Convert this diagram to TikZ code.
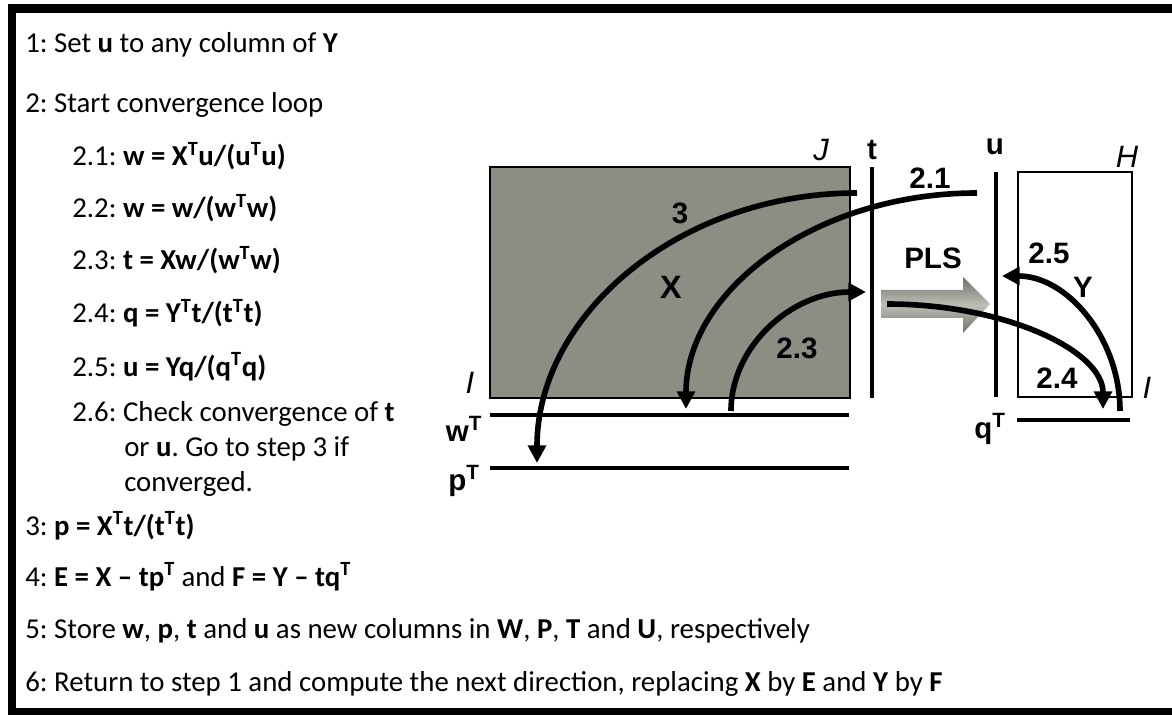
\documentclass[tikz,border=0pt]{standalone}
\usepackage{fontspec}
\setmainfont{Carlito}
\newfontfamily\diagfont{Liberation Sans}
\usetikzlibrary{arrows.meta}
\frenchspacing
\definecolor{matgray} {RGB}{141,141,131}
\definecolor{plsgray} {RGB}{112,112,104}
\definecolor{plslight}{RGB}{190,190,182}
\newcommand{\Tp}{\textsuperscript{T}}

\begin{document}
\begin{tikzpicture}[x=0.025cm, y=-0.025cm,
  txt/.style={anchor=base west, inner sep=0pt,
              font=\fontsize{20.5}{24}\selectfont},
  lab/.style={inner sep=0pt, font=\diagfont\bfseries\fontsize{21}{24}\selectfont},
  dimlab/.style={inner sep=0pt, font=\diagfont\itshape\fontsize{22}{25}\selectfont},
  vecline/.style={line width=2.8pt},
  flow/.style={line width=4pt, -{Triangle[length=0.44cm,width=0.44cm]}},
  boxline/.style={line width=6.4pt},
]
\useasboundingbox (0,0) rectangle (1172,715);

% Frame (right side open)
\coordinate (fa) at (1180,9);
\coordinate (fb) at (12,9);
\coordinate (fc) at (12,712);
\coordinate (fd) at (1180,712);
\draw[boxline] (fa) -- (fb) -- (fc) -- (fd);

% Algorithm steps
\node[txt] (s1)   at (25,53)   {1: Set \textbf{u} to any column of \textbf{Y}};
\node[txt] (s2)   at (25,113)  {2: Start convergence loop};
\node[txt] (s21)  at (72,166)  {2.1: \textbf{w = X\Tp u/(u\Tp u)}};
\node[txt] (s22)  at (72,218)  {2.2: \textbf{w = w/(w\Tp w)}};
\node[txt] (s23)  at (72,270)  {2.3: \textbf{t = Xw/(w\Tp w)}};
\node[txt] (s24)  at (72,323)  {2.4: \textbf{q = Y\Tp t/(t\Tp t)}};
\node[txt] (s25)  at (72,376)  {2.5: \textbf{u = Yq/(q\Tp q)}};
\node[txt] (s26)  at (72,421)  {2.6: Check convergence of \textbf{t}};
\node[txt] (s26b) at (124,456) {or \textbf{u}. Go to step 3 if};
\node[txt] (s26c) at (124,491) {converged.};
\node[txt] (s3)   at (25,535)  {3: \textbf{p = X\Tp t/(t\Tp t)}};
\node[txt] (s4)   at (25,586)  {4: \textbf{E = X -- tp\Tp} and \textbf{F = Y -- tq\Tp}};
\node[txt] (s5)   at (25,638)  {5: Store \textbf{w}, \textbf{p}, \textbf{t} and \textbf{u} as new columns in \textbf{W}, \textbf{P}, \textbf{T} and \textbf{U}, respectively};
\node[txt] (s6)   at (25,691)  {6: Return to step 1 and compute the next direction, replacing \textbf{X} by \textbf{E} and \textbf{Y} by \textbf{F}};

% X block and its vectors
\draw[fill=matgray, line width=1.2pt] (490,167) rectangle (850,398);
\coordinate (t1) at (872,167);  \coordinate (t2) at (872,398);
\coordinate (w1) at (490,415);  \coordinate (w2) at (849,415);
\coordinate (p1) at (490,468);  \coordinate (p2) at (849,468);
\draw[vecline] (t1) -- (t2);
\draw[vecline] (w1) -- (w2);
\draw[vecline] (p1) -- (p2);

% Y block and its vectors
\draw[fill=white, line width=1.2pt] (1018,172) rectangle (1132,397);
\coordinate (u1) at (996,172);  \coordinate (u2) at (996,397);
\coordinate (q1) at (1017,420); \coordinate (q2) at (1130,420);
\draw[vecline] (u1) -- (u2);
\draw[vecline] (q1) -- (q2);

% PLS arrow
\shade[top color=plsgray, bottom color=plsgray, middle color=plslight]
  (881,290) -- (963,290) -- (963,277) -- (990,304) -- (963,333)
  -- (963,318) -- (881,318) -- cycle;

% Labels
\node[dimlab] (lJ)  at (821,150)  {J};
\node[lab]    (lt)  at (872,150)  {t};
\node[dimlab] (lI1) at (470,383)  {I};
\node[lab, font=\diagfont\bfseries\fontsize{23}{26}\selectfont] (lX) at (671,287) {X};
\node[lab]    (lw)  at (464,429)  {w\Tp};
\node[lab]    (lp)  at (464,481)  {p\Tp};
\node[lab]    (lu)  at (995,147)  {u};
\node[dimlab] (lH)  at (1127,157) {H};
\node[dimlab] (lI2) at (1147,388) {I};
\node[lab]    (lq)  at (990,429)  {q\Tp};
\node[lab]    (lY)  at (1083,287) {Y};
\node[lab]    (lPLS) at (933,258) {PLS};
\node[lab]    (n3)  at (680,213)  {3};
\node[lab]    (n21) at (930,178)  {2.1};
\node[lab]    (n23) at (797,348)  {2.3};
\node[lab]    (n24) at (1057,378) {2.4};
\node[lab]    (n25) at (1049,253) {2.5};

% Iteration arrows
\coordinate (a3s)  at (857,193);  \coordinate (a3e)  at (537,463);
\coordinate (a21s) at (977,193);  \coordinate (a21e) at (686,409);
\coordinate (a23s) at (731,411);  \coordinate (a23e) at (866,292);
\coordinate (a24s) at (887,304);  \coordinate (a24e) at (1103,409);
\coordinate (a25s) at (1120,411); \coordinate (a25e) at (1002,276);
\draw[flow] (a3s)  .. controls +(-177,0) and +(0,-149) .. (a3e);
\draw[flow] (a21s) .. controls +(-161,0) and +(0,-119) .. (a21e);
\draw[flow] (a23s) .. controls +(0,-65)  and +(-74,0)  .. (a23e);
\draw[flow] (a24s) .. controls +(119,0)  and +(0,-58)  .. (a24e);
\draw[flow] (a25s) .. controls +(0,-73)  and +(65,0)   .. (a25e);

\end{tikzpicture}
\end{document}
